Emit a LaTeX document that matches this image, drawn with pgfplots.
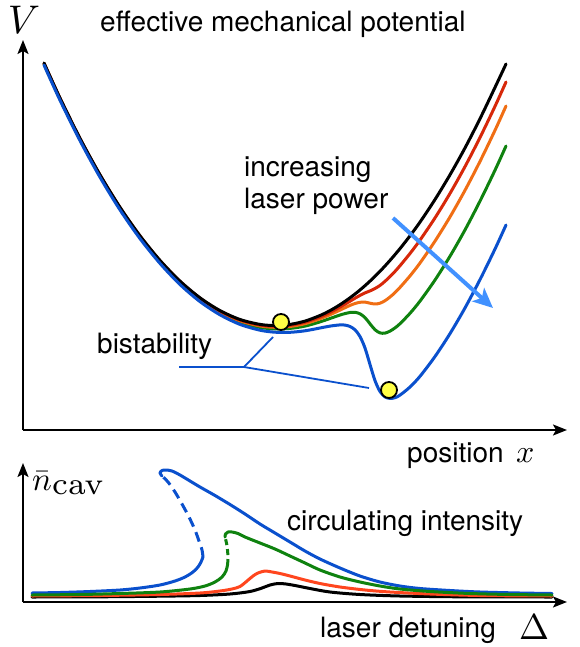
\documentclass[border=0pt]{standalone}
\usepackage{graphicx}
\usepackage[no-math]{fontspec}
\setmainfont{TeX Gyre Heros}
\usepackage{pgfplots}
\pgfplotsset{compat=1.18}
\usetikzlibrary{arrows.meta}
\definecolor{cred}{RGB}{215,40,10}
\definecolor{corange}{RGB}{240,110,20}
\definecolor{cgreen}{RGB}{15,130,15}
\definecolor{cblue}{RGB}{10,80,205}
\definecolor{cbred}{RGB}{255,70,30}
\definecolor{carrow}{RGB}{65,145,255}
\definecolor{cyellow}{RGB}{255,255,70}
\begin{document}
\begin{tikzpicture}
\useasboundingbox (0pt,0pt) rectangle (579pt,-647pt);
\pgfplotsset{every axis/.append style={scale only axis, axis lines=left, xtick=\empty, ytick=\empty, clip=false,
  axis line style={line width=2pt, -{Stealth[length=14pt,width=11pt,inset=3pt]}}},
  curve/.style={line width=3pt, smooth, line cap=round, line join=round}}
% ---------------- top panel ----------------
\begin{axis}[at={(23pt,-430pt)}, anchor=south west, width=544pt, height=390pt,
  xmin=23, xmax=567, ymin=-430, ymax=-40]
\addplot[curve, cgreen] coordinates {(44,-64.0)(60,-99.2)(80,-139.5)(100,-176.0)(120,-208.6)(140,-237.2)(160,-262.0)(180,-282.8)(200,-299.7)(220,-312.8)(240,-322.0)(260,-327.4)(275,-328.9)(290,-328.4)(305,-326.1)(320,-321.9)(330,-318.5)(340,-315.0)(345,-313.6)(350,-312.5)(355,-312.3)(360,-313.8)(365,-317.6)(370,-323.8)(375,-329.7)(380,-332.9)(385,-333.1)(390,-331.1)(395,-327.9)(400,-323.7)(410,-313.3)(420,-301.1)(435,-280.0)(450,-256.2)(465,-229.9)(480,-201.1)(495,-170.2)(506,-146.0)};
\addplot[curve, corange] coordinates {(44,-63.5)(60,-98.6)(80,-139.0)(100,-175.4)(120,-208.0)(140,-236.5)(160,-261.2)(180,-282.0)(200,-298.8)(220,-311.7)(240,-320.8)(260,-325.9)(275,-327.3)(290,-326.5)(305,-323.7)(320,-318.8)(330,-314.7)(340,-310.1)(345,-307.7)(350,-305.4)(355,-303.5)(360,-302.3)(365,-302.1)(370,-303.2)(375,-304.0)(380,-303.2)(385,-300.7)(390,-297.0)(395,-292.6)(400,-287.4)(410,-275.9)(420,-263.0)(435,-241.1)(450,-216.9)(465,-190.3)(480,-161.4)(495,-130.3)(506,-106.0)};
\addplot[curve, cred] coordinates {(44,-63.2)(60,-98.3)(80,-138.7)(100,-175.1)(120,-207.6)(140,-236.1)(160,-260.8)(180,-281.5)(200,-298.2)(220,-311.1)(240,-320.1)(260,-325.1)(275,-326.3)(290,-325.3)(305,-322.2)(320,-317.0)(330,-312.4)(340,-307.1)(345,-304.2)(350,-301.2)(355,-298.2)(360,-295.4)(365,-292.9)(370,-290.9)(375,-288.5)(380,-285.4)(385,-281.3)(390,-276.5)(395,-271.4)(400,-265.7)(410,-253.5)(420,-240.1)(435,-217.9)(450,-193.4)(465,-166.6)(480,-137.5)(495,-106.3)(506,-82.0)};
\addplot[curve, black] coordinates {(44,-63.0)(60,-98.1)(80,-138.4)(100,-174.8)(120,-207.3)(140,-235.8)(160,-260.4)(180,-281.1)(200,-297.8)(220,-310.6)(240,-319.5)(260,-324.4)(275,-325.5)(290,-324.4)(305,-321.1)(320,-315.5)(330,-310.6)(340,-304.7)(350,-297.8)(360,-290.0)(370,-281.1)(380,-271.3)(390,-260.4)(400,-248.6)(410,-235.8)(420,-222.1)(435,-199.5)(450,-174.8)(465,-147.9)(480,-118.7)(495,-87.4)(506,-64.0)};
\addplot[curve, cblue] coordinates {(44,-65.0)(60,-100.2)(80,-140.6)(100,-177.2)(120,-209.9)(140,-238.6)(160,-263.4)(180,-284.5)(200,-301.6)(220,-314.8)(240,-324.4)(260,-330.2)(275,-332.2)(290,-332.3)(305,-330.8)(320,-328.0)(330,-326.1)(340,-324.9)(345,-325.1)(350,-326.5)(355,-329.8)(360,-336.5)(365,-348.0)(370,-364.5)(375,-380.6)(380,-391.5)(385,-396.9)(390,-398.4)(395,-397.7)(400,-395.1)(410,-387.0)(420,-376.3)(435,-356.5)(450,-333.6)(465,-307.9)(480,-279.6)(495,-249.0)(506,-225.0)};
% bistability pointers
\addplot[cblue, line width=1.8pt] coordinates {(179,-367)(244,-367)(273,-337)};
\addplot[cblue, line width=1.8pt] coordinates {(244,-367)(369,-388)};
% increasing power arrow
\addplot[carrow, line width=4pt, -{Stealth[length=20pt,width=18pt,inset=5pt]}] coordinates {(393,-218)(493,-308)};
% stable points
\addplot[only marks, mark=*, mark size=8pt, mark options={fill=cyellow, draw=black, line width=1.8pt}] coordinates {(281,-322)(389,-390)};
\end{axis}
% ---------------- bottom panel ----------------
\begin{axis}[at={(23pt,-602pt)}, anchor=south west, width=544pt, height=139pt,
  xmin=23, xmax=567, ymin=-602, ymax=-463]
\addplot[curve, black] coordinates {(32,-597)(100,-596.8)(160,-596.2)(200,-595.5)(230,-594)(250,-591.5)(262,-588)(270,-585)(278,-583.5)(286,-584)(295,-585.5)(310,-588.5)(330,-592)(360,-594.5)(400,-596)(460,-596.8)(552,-597)};
\addplot[curve, cbred] coordinates {(32,-596)(100,-595.5)(160,-594.5)(200,-593)(220,-591)(232,-589)(240,-586.5)(247,-581)(253,-576)(258,-573)(265,-571)(272,-572)(280,-573.5)(290,-576)(305,-580)(320,-583.5)(340,-587)(365,-590)(390,-592)(430,-594)(480,-595.5)(552,-596)};
\addplot[curve, cblue] coordinates {(32,-593)(60,-592.5)(90,-591.5)(120,-590)(140,-588)(160,-585)(175,-581)(185,-577)(193,-572)(198,-567)(201,-562)(203,-557)};
\addplot[curve, cblue, line cap=butt, dash pattern=on 10pt off 6pt] coordinates {(203,-557)(202,-550)(199,-541)(195,-530)(189,-517)(182,-504)(175,-492)(168,-482)(162,-476)};
\addplot[curve, cblue] coordinates {(162,-476)(160,-473)(162,-470.5)(166,-470)(172,-471)(180,-475)(190,-481)(200,-487)(215,-495.5)(230,-504.5)(245,-514)(260,-524)(275,-533)(290,-542)(305,-551)(320,-559)(340,-568)(360,-576)(380,-582)(400,-586)(420,-588.5)(450,-590.5)(480,-592)(520,-593)(552,-593.5)};
\addplot[curve, cgreen] coordinates {(32,-595)(80,-594.5)(120,-593.5)(160,-592)(190,-589)(205,-586)(215,-582)(222,-577)(226,-571)(227.5,-565)};
\addplot[curve, cgreen, line cap=butt, dash pattern=on 6pt off 4pt] coordinates {(227.5,-565)(228,-558)(227.5,-550)(226.5,-543)(225,-537)};
\addplot[curve, cgreen] coordinates {(225,-537)(225.5,-534)(228,-532)(232,-532)(238,-533.5)(245,-537)(260,-543)(275,-549)(290,-556)(305,-563)(320,-570)(340,-577)(360,-582)(380,-586)(400,-589)(430,-591.5)(470,-593.5)(510,-594.5)(552,-595)};
\end{axis}
% ---------------- text ----------------
\begin{scope}[every node/.style={inner sep=0pt, anchor=base west, font=\fontsize{28}{32}\selectfont}]
\node[anchor=base] at (24pt,-34pt) {\normalsize\scalebox{4}{$V$}};
\node at (100pt,-32pt) {effective mechanical potential};
\node at (244pt,-176pt) {increasing};
\node at (244pt,-208pt) {laser power};
\node at (97pt,-353pt) {bistability};
\node at (407pt,-462pt) {position};
\node at (516pt,-462pt) {\normalsize\scalebox{3.2}{$x$}};
\node at (32pt,-490pt) {\normalsize\scalebox{3.3}{$\bar{n}_{\scalebox{1.35}{$\scriptstyle\mathrm{cav}$}}$}};
\node at (287pt,-530pt) {circulating intensity};
\node at (320pt,-637pt) {laser detuning};
\node at (519pt,-639pt) {\normalsize\scalebox{3.6}{$\Delta$}};
\end{scope}
\end{tikzpicture}
\end{document}
